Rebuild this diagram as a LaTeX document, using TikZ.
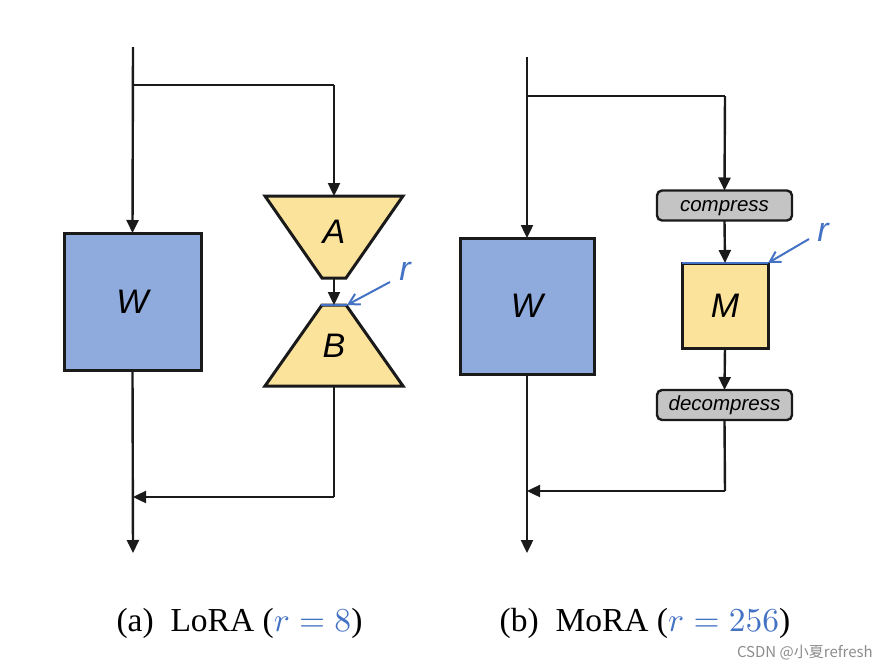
\documentclass[tikz,border=0pt]{standalone}
\usepackage{fontspec}
\newfontfamily\hel{Liberation Sans}
\newfontfamily\tms{Liberation Serif}
\newfontfamily\cjk{Noto Sans CJK SC}
\usetikzlibrary{arrows.meta}
\definecolor{wblue}{HTML}{8FAADC}
\definecolor{ayel}{HTML}{FCE39C}
\definecolor{bgray}{HTML}{C4C4C4}
\definecolor{rblue}{HTML}{4472C4}
\definecolor{edgec}{HTML}{1A1A1A}
\begin{document}
\begin{tikzpicture}[x=1pt,y=-1pt,
  conn/.style={draw=edgec, line width=2.4pt},
  arr/.style={conn, -{Triangle[length=13pt,width=12pt]}},
  lbl/.style={font=\hel\itshape\fontsize{34}{34}\selectfont, inner sep=0pt},
  wbox/.style={draw=edgec, line width=3pt, fill=wblue, inner sep=0pt, outer sep=0pt, lbl},
  mbox/.style={draw=edgec, line width=3pt, fill=ayel, inner sep=0pt, outer sep=0pt, lbl},
  gbox/.style={draw=edgec, line width=2.4pt, fill=bgray, rounded corners=5pt, minimum width=135pt, minimum height=30pt, inner sep=0pt, outer sep=0pt, text height=15pt, text depth=4pt, font=\hel\itshape\fontsize{20.5}{21}\selectfont},
  trap/.style={draw=edgec, line width=3pt, fill=ayel, line join=miter},
  rline/.style={draw=rblue, line width=2.6pt},
  rarr/.style={draw=rblue, line width=2pt, -{Straight Barb[angle=60:12pt]}},
  rlbl/.style={lbl, text=rblue},
  captxt/.style={scale=3.35, inner sep=0pt, font=\tms}
]
\useasboundingbox (0,0) rectangle (887,672);

% ---------- (a) LoRA ----------
\coordinate (inL) at (133,47);
\coordinate (brL) at (133,85);
\coordinate (brLr) at (334,85);
\node[wbox, minimum width=137pt, minimum height=137pt] (WL) at (132.5,301.5) {W};
\draw[trap] (265,196) -- (403,196) -- (346,278) -- (322,278) -- cycle;
\coordinate (Atop) at (334,196);
\coordinate (Abot) at (334,278);
\node[lbl] (A) at (334,232) {A};
\draw[trap] (322,305) -- (346,305) -- (403,386) -- (265,386) -- cycle;
\coordinate (Btop) at (334,305);
\coordinate (Bbot) at (334,386);
\node[lbl] (B) at (334,346) {B};
\draw[rline] (321,305) coordinate (rl1) -- (347,305) coordinate (rl2);
\coordinate (rtailL) at (390,282);
\draw[rarr] (rtailL) -- (rl2);
\node[rlbl] (rL) at (405,271) {r};
\coordinate (retL) at (334,497);
\coordinate (joinL) at (133,497);
\coordinate (botL) at (133,553);

\draw[arr] (inL) -- (WL.north);
\draw[conn] (brL) -- (brLr);
\draw[arr] (brLr) -- (Atop);
\draw[arr] (Abot) -- (Btop);
\draw[conn] (Bbot) -- (retL);
\draw[arr] (retL) -- (joinL);
\draw[arr] (WL.south) -- (botL);

% ---------- (b) MoRA ----------
\coordinate (inR) at (527,57);
\coordinate (brR) at (527,96);
\coordinate (brRr) at (725,96);
\node[wbox, minimum width=134pt, minimum height=136pt] (WR) at (527,306) {W};
\node[gbox] (comp) at (724.5,205.5) {compress};
\node[mbox, minimum width=86pt, minimum height=85pt] (M) at (725,305.5) {M};
\node[gbox] (decomp) at (724.5,405) {decompress};
\draw[rline] (M.north west) -- (M.north east);
\coordinate (rtailR) at (809,239);
\draw[rarr] (rtailR) -- (M.north east);
\node[rlbl] (rR) at (823,232) {r};
\coordinate (retR) at (725,491);
\coordinate (joinR) at (527,491);
\coordinate (botR) at (527,553);

\draw[arr] (inR) -- (WR.north);
\draw[conn] (brR) -- (brRr);
\draw[arr] (brRr) -- (comp.north);
\draw[arr] (comp.south) -- (M.north);
\draw[arr] (M.south) -- (decomp.north);
\draw[conn] (decomp.south) -- (retR);
\draw[arr] (retR) -- (joinR);
\draw[arr] (WR.south) -- (botR);

% ---------- captions ----------
\node[captxt] (capA) at (239.5,623) {(a)\hspace{0.5em}LoRA (\textcolor{rblue}{$r=8$})};
\node[captxt] (capB) at (645,623) {(b)\hspace{0.5em}MoRA (\textcolor{rblue}{$r=256$})};
\node[font=\cjk\fontsize{15}{16}\selectfont, text=black!45, anchor=east, inner sep=0pt] (wm) at (873,653) {CSDN @小夏refresh};
\end{tikzpicture}
\end{document}
